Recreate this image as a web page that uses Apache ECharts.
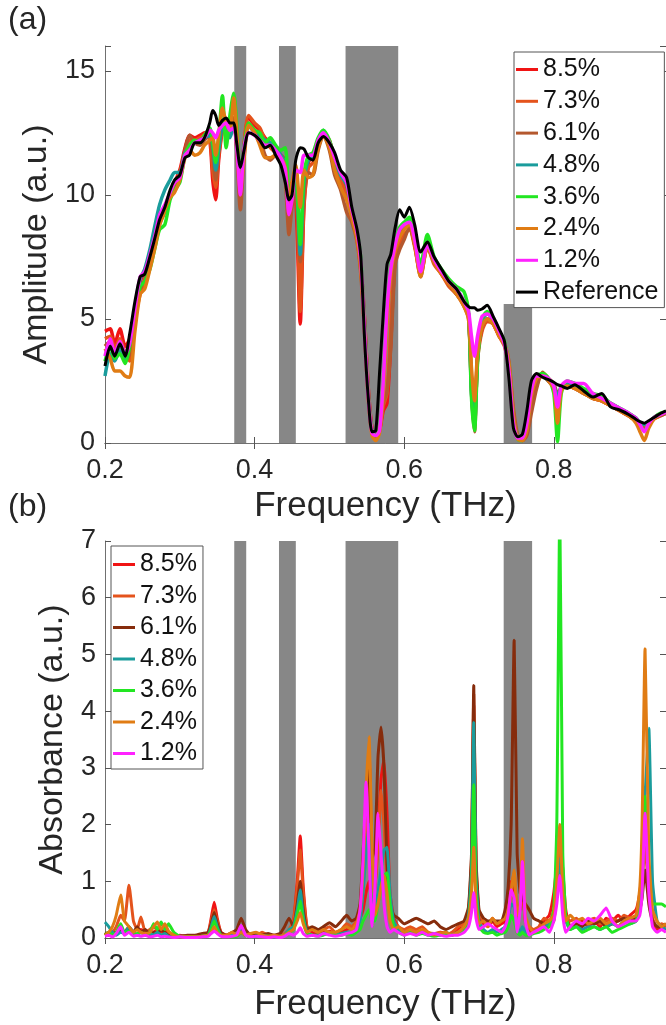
<!DOCTYPE html>
<html><head><meta charset="utf-8">
<script src="https://cdn.jsdelivr.net/npm/echarts@6/dist/echarts.min.js"></script>
<style>html,body{margin:0;padding:0;background:#fff}#c{width:666px;height:1025px}</style>
</head><body><div id="c"></div>
<script>
// ---------- data ----------
const X_TICKS = [0.2, 0.4, 0.6, 0.8];
const Y_TICKS_A = [0, 5, 10, 15];
const Y_TICKS_B = [0, 1, 2, 3, 4, 5, 6, 7];
const NAMES_A = ['8.5%', '7.3%', '6.1%', '4.8%', '3.6%', '2.4%', '1.2%', 'Reference'];
const NAMES_B = ['8.5%', '7.3%', '6.1%', '4.8%', '3.6%', '2.4%', '1.2%'];
const BANDS = [[0.3728, 0.3888], [0.4326, 0.4551], [0.5216, 0.592], [0.733, 0.771]];
const BAND4_TOP_A = 5.6;

const FREQ_A = [
0.200,0.207,0.213,0.220,0.227,0.233,0.240,0.247,0.253,0.260,
0.267,0.273,0.280,0.287,0.293,0.300,0.307,0.313,0.320,0.327,
0.333,0.340,0.344,0.348,0.352,0.357,0.362,0.367,0.372,0.376,
0.381,0.386,0.392,0.400,0.407,0.414,0.421,0.428,0.435,0.441,
0.446,0.450,0.455,0.461,0.466,0.472,0.478,0.485,0.492,0.500,
0.507,0.515,0.523,0.530,0.537,0.542,0.547,0.552,0.557,0.562,
0.567,0.572,0.577,0.582,0.588,0.594,0.600,0.607,0.614,0.622,
0.631,0.640,0.650,0.660,0.670,0.680,0.686,0.690,0.694,0.698,
0.704,0.711,0.719,0.727,0.734,0.740,0.746,0.752,0.758,0.764,
0.770,0.777,0.785,0.793,0.800,0.805,0.810,0.818,0.828,0.840,
0.852,0.864,0.876,0.888,0.900,0.910,0.916,0.921,0.927,0.935,
0.943,0.950];

const AMP_REF = [
3.1,3.9,3.5,4.0,3.5,4.4,5.7,6.7,6.8,7.5,
8.3,9.0,9.5,10.2,10.6,10.8,11.5,11.6,12.1,12.1,
12.3,12.9,13.4,13.2,12.8,13.0,13.1,12.9,12.9,12.1,
11.1,11.8,12.5,12.4,12.2,11.9,12.0,11.6,11.2,10.5,
9.8,10.0,11.4,11.9,11.85,11.5,11.4,12.1,12.35,12.1,
11.7,11.0,10.7,9.5,8.6,7.5,4.2,1.8,0.45,0.5,
2.8,5.2,7.2,7.6,8.7,9.4,9.1,9.5,8.8,7.7,
8.1,7.5,7.0,6.5,6.2,5.7,5.5,5.45,5.45,5.35,
5.4,5.55,5.1,4.6,4.1,2.6,0.6,0.25,0.35,1.3,
2.5,2.8,2.65,2.55,2.45,2.35,2.3,2.2,2.35,2.1,
1.85,2.0,1.45,1.33,1.15,0.95,0.85,0.8,0.9,1.05,
1.2,1.3];

const AMP_85 = [
4.5,4.6,4.0,4.6,3.9,4.2,5.3,6.5,6.9,7.4,
8.2,9.1,9.4,10.0,10.5,11.0,11.9,12.4,12.3,12.4,
12.5,12.2,10.6,9.8,11.4,12.6,12.8,12.6,13.0,12.0,
10.1,12.0,13.1,12.8,12.6,12.3,12.1,11.9,11.6,11.4,
9.6,10.5,10.0,4.8,9.5,11.3,11.6,12.1,12.5,12.2,
11.4,10.8,10.3,9.3,8.3,7.2,5.0,2.2,0.6,0.3,
0.5,1.3,1.6,4.0,7.6,8.5,8.7,8.8,8.0,7.0,
8.0,7.3,6.8,6.4,6.0,5.6,5.1,2.5,0.9,3.5,
4.6,5.0,4.8,4.3,4.0,3.0,1.0,0.2,0.15,0.6,
1.8,2.5,2.7,2.5,2.2,1.8,2.2,2.3,2.2,2.1,
1.8,1.7,1.5,1.3,1.1,0.9,0.7,0.6,0.8,1.0,
1.15,1.25];

const AMP_73 = [
4.2,4.3,3.8,4.2,3.6,3.3,4.9,6.0,6.5,7.2,
8.0,8.8,9.3,9.9,10.3,10.9,11.7,12.2,12.2,12.3,
12.4,12.3,11.0,10.3,11.6,12.6,12.9,12.7,13.1,12.4,
9.9,12.1,13.2,12.9,12.7,12.2,11.9,11.7,11.5,11.2,
9.6,10.2,10.3,5.3,9.6,11.1,11.3,12.0,12.5,12.0,
11.2,10.6,10.0,9.2,8.2,7.0,4.8,2.0,0.5,0.3,
0.6,1.5,2.0,4.5,7.4,8.0,8.4,8.6,7.9,6.8,
7.9,7.2,6.8,6.3,6.0,5.5,5.0,2.2,0.7,3.3,
4.5,4.9,4.8,4.3,3.9,3.1,1.2,0.25,0.1,0.4,
1.4,2.3,2.8,2.5,2.3,1.9,2.2,2.3,2.2,2.0,
1.8,1.7,1.5,1.3,1.1,0.9,0.75,0.7,0.8,1.0,
1.1,1.2];

const AMP_61 = [
3.9,4.1,3.6,3.9,3.3,3.6,5.0,6.2,6.6,7.3,
8.1,8.9,9.4,10.0,10.4,10.8,11.8,12.4,12.1,12.0,
12.2,12.5,11.6,10.6,11.8,12.8,13.0,12.8,13.1,11.8,
9.4,11.6,12.9,12.6,12.3,11.6,11.4,11.6,11.4,10.6,
8.4,9.5,10.4,7.3,10.2,10.9,10.8,11.8,12.4,11.8,
10.8,10.2,9.3,8.9,8.1,6.8,4.5,1.8,0.4,0.2,
0.5,1.6,2.1,3.8,7.2,7.8,8.2,8.7,8.0,6.7,
7.9,7.3,6.9,6.4,6.0,5.6,5.2,2.0,0.45,3.4,
4.7,5.0,4.9,4.4,4.0,3.3,1.4,0.3,0.1,0.3,
1.2,2.2,2.85,2.6,2.4,2.0,2.2,2.3,2.2,2.0,
1.8,1.75,1.5,1.35,1.1,0.9,0.8,0.75,0.85,1.0,
1.1,1.2];

const AMP_48 = [
2.7,3.6,3.3,3.8,3.4,4.0,5.4,6.6,7.0,7.8,
8.8,9.6,10.2,10.6,10.9,10.9,11.7,11.9,12.1,12.2,
12.3,12.4,12.0,11.0,11.8,12.7,12.6,12.3,12.8,12.2,
10.3,12.0,12.8,12.5,12.4,12.2,12.1,11.9,11.6,11.3,
10.0,10.2,10.7,7.6,10.5,11.4,11.5,12.2,12.6,12.1,
11.4,10.8,10.4,9.4,8.5,7.3,4.8,2.0,0.5,0.3,
0.5,2.3,5.3,7.0,8.0,8.6,8.8,9.0,8.2,7.1,
8.2,7.4,6.9,6.5,6.2,5.7,5.2,2.0,0.7,3.4,
4.9,5.2,5.0,4.5,4.0,3.1,1.0,0.2,0.15,0.6,
2.0,2.7,2.7,2.5,2.3,1.8,2.3,2.4,2.3,2.1,
1.9,1.8,1.6,1.4,1.2,1.0,0.8,0.75,0.85,1.05,
1.15,1.25];

const AMP_36 = [
3.3,3.9,3.4,3.6,3.2,3.9,5.3,6.3,6.5,7.0,
7.9,8.6,8.8,9.8,10.2,10.5,11.6,12.0,12.2,12.1,
12.4,12.7,12.1,11.3,12.3,14.0,11.9,13.2,14.1,12.9,
10.6,11.9,12.9,12.6,12.5,12.1,12.3,12.0,11.8,11.9,
10.0,10.4,10.9,8.0,10.8,11.6,11.7,12.3,12.6,12.2,
11.5,10.9,10.5,9.4,8.5,7.4,4.6,1.8,0.4,0.3,
0.6,2.5,5.5,7.1,8.1,8.7,8.9,9.1,8.3,7.2,
8.4,7.5,7.0,6.6,6.3,6.1,5.3,1.8,0.5,3.2,
5.0,5.3,5.0,4.5,4.1,3.0,0.9,0.15,0.1,0.7,
2.1,2.7,2.8,2.6,2.0,0.05,2.0,2.5,2.4,2.2,
2.0,1.9,1.6,1.4,1.2,1.0,0.7,0.5,0.8,1.05,
1.2,1.25];

const AMP_24 = [
3.8,3.4,2.9,2.9,2.7,2.65,4.5,6.0,6.2,7.0,
7.9,8.8,9.4,9.9,10.1,10.6,11.5,11.8,11.6,11.7,
12.0,12.2,12.3,11.6,12.4,13.5,12.9,12.6,13.9,12.6,
10.2,11.5,12.8,12.5,12.0,11.5,11.5,11.6,11.5,11.1,
9.8,10.5,11.2,9.5,11.0,10.7,10.8,11.9,12.4,11.9,
11.0,10.3,9.8,9.1,8.2,7.0,4.5,1.8,0.3,0.1,
0.4,2.0,4.8,6.8,7.8,8.3,8.6,8.8,8.0,6.7,
7.9,7.3,6.8,6.4,6.0,5.5,5.0,3.0,1.7,3.6,
4.7,5.0,4.8,4.3,4.0,3.2,1.1,0.15,0.1,0.5,
1.9,2.6,2.7,2.5,2.2,0.8,2.1,2.3,2.2,2.0,
1.8,1.7,1.5,1.3,1.1,0.8,0.4,0.1,0.6,1.0,
1.15,1.25];

const AMP_12 = [
3.5,4.2,3.6,4.1,3.6,4.0,5.4,6.7,6.9,7.6,
8.4,9.2,9.6,10.1,10.5,10.7,11.6,11.8,12.1,12.2,
12.3,12.6,12.5,12.3,12.6,12.8,12.9,12.6,12.7,12.0,
10.0,11.9,12.5,12.4,12.2,12.0,12.0,11.8,11.5,11.0,
9.2,9.8,11.0,10.9,11.6,11.6,11.6,12.2,12.5,12.1,
11.5,10.9,10.5,9.4,8.5,7.3,4.5,1.8,0.4,0.3,
0.5,2.5,5.4,7.0,8.0,8.6,8.8,8.9,8.2,6.9,
8.0,7.4,6.9,6.5,6.2,5.7,5.3,4.3,3.5,4.3,
5.1,5.2,5.0,4.5,4.0,2.9,0.8,0.2,0.2,0.8,
2.1,2.7,2.7,2.6,2.3,1.45,2.3,2.5,2.4,2.4,
2.0,1.8,1.6,1.4,1.2,1.0,0.7,0.45,0.8,1.05,
1.15,1.25];

const FREQ_B = [
0.200,0.205,0.210,0.215,0.221,0.226,0.232,0.238,0.243,0.248,
0.254,0.260,0.265,0.270,0.275,0.280,0.285,0.292,0.300,0.310,
0.320,0.330,0.338,0.342,0.346,0.350,0.355,0.362,0.370,0.376,
0.382,0.388,0.395,0.402,0.410,0.418,0.426,0.434,0.440,0.446,
0.452,0.457,0.461,0.465,0.470,0.477,0.485,0.492,0.500,0.508,
0.516,0.523,0.530,0.536,0.541,0.545,0.549,0.553,0.557,0.561,
0.565,0.569,0.573,0.577,0.581,0.586,0.592,0.600,0.608,0.616,
0.624,0.632,0.640,0.648,0.656,0.664,0.672,0.680,0.686,0.690,
0.693,0.696,0.700,0.706,0.712,0.718,0.724,0.730,0.735,0.739,
0.743,0.747,0.751,0.755,0.758,0.762,0.767,0.773,0.780,0.787,
0.794,0.800,0.804,0.808,0.812,0.816,0.822,0.830,0.838,0.846,
0.854,0.862,0.870,0.878,0.886,0.894,0.902,0.910,0.915,0.918,
0.922,0.927,0.932,0.938,0.944,0.950];

const ABS_85 = [
0.05,0.1,0.05,0.1,0.15,0.1,0.2,0.1,0.05,0.15,
0.1,0.05,0.1,0.15,0.1,0.12,0.05,0.03,0.05,0.02,
0.03,0.05,0.1,0.35,0.63,0.35,0.1,0.05,0.05,0.05,
0.1,0.05,0.03,0.05,0.08,0.03,0.05,0.03,0.05,0.1,
0.3,1.0,1.8,0.9,0.2,0.1,0.05,0.1,0.12,0.08,
0.1,0.15,0.2,0.25,0.35,0.5,0.8,1.0,0.6,0.9,
1.8,2.8,3.15,2.2,0.8,0.35,0.2,0.1,0.15,0.1,
0.12,0.08,0.05,0.1,0.08,0.05,0.15,0.2,0.4,1.3,
4.1,1.2,0.4,0.25,0.2,0.3,0.2,0.25,0.3,0.5,
1.0,0.7,0.4,0.5,0.9,0.3,0.15,0.1,0.15,0.3,
0.4,0.8,1.3,1.8,1.2,0.5,0.2,0.25,0.3,0.2,
0.3,0.2,0.35,0.3,0.4,0.3,0.4,0.5,0.8,1.2,
1.8,1.0,0.3,0.15,0.2,0.15];

const ABS_73 = [
0.08,0.05,0.1,0.2,0.4,0.3,0.93,0.3,0.15,0.37,
0.1,0.15,0.2,0.15,0.25,0.2,0.1,0.05,0.03,0.02,
0.03,0.05,0.1,0.3,0.5,0.3,0.1,0.05,0.08,0.05,
0.15,0.05,0.08,0.05,0.1,0.05,0.03,0.05,0.08,0.15,
0.3,0.9,1.55,0.8,0.2,0.15,0.1,0.15,0.2,0.1,
0.15,0.25,0.2,0.3,0.5,0.9,2.0,3.3,1.5,0.9,
1.6,2.6,2.0,1.0,0.5,0.3,0.2,0.15,0.2,0.15,
0.2,0.1,0.08,0.1,0.05,0.1,0.2,0.25,0.5,1.4,
4.3,1.3,0.45,0.3,0.25,0.35,0.25,0.3,0.35,0.4,
0.9,1.15,0.5,0.6,1.0,0.3,0.2,0.15,0.2,0.35,
0.3,0.5,1.0,1.5,0.9,0.4,0.3,0.35,0.25,0.3,
0.35,0.25,0.3,0.35,0.3,0.4,0.35,0.4,0.6,1.0,
1.6,0.8,0.35,0.2,0.25,0.2];

const ABS_61 = [
0.1,0.05,0.08,0.1,0.15,0.1,0.15,0.1,0.2,0.1,
0.15,0.05,0.1,0.08,0.15,0.1,0.05,0.05,0.03,0.05,
0.05,0.08,0.1,0.25,0.45,0.25,0.1,0.05,0.1,0.15,
0.35,0.15,0.05,0.08,0.05,0.08,0.05,0.08,0.2,0.35,
0.2,0.6,1.0,0.5,0.15,0.2,0.15,0.2,0.27,0.2,
0.3,0.4,0.3,0.35,0.6,1.5,2.5,3.2,1.4,1.6,
3.2,3.72,3.0,1.3,0.6,0.4,0.35,0.25,0.3,0.35,
0.3,0.25,0.3,0.2,0.15,0.2,0.25,0.3,0.55,1.5,
4.45,1.4,0.5,0.35,0.3,0.3,0.3,0.3,0.5,0.9,
2.0,5.25,1.5,0.8,0.7,0.6,0.5,0.35,0.3,0.25,
0.2,0.3,0.8,1.3,0.7,0.3,0.2,0.25,0.2,0.3,
0.25,0.3,0.2,0.25,0.3,0.35,0.3,0.35,0.5,0.7,
1.2,0.6,0.3,0.2,0.2,0.25];

const ABS_48 = [
0.28,0.2,0.1,0.05,0.1,0.08,0.2,0.1,0.05,0.1,
0.05,0.08,0.05,0.1,0.05,0.08,0.03,0.02,0.03,0.02,
0.02,0.03,0.05,0.2,0.38,0.2,0.05,0.03,0.05,0.05,
0.2,0.05,0.02,0.03,0.05,0.03,0.02,0.03,0.05,0.15,
0.2,0.5,0.85,0.4,0.1,0.05,0.05,0.08,0.1,0.05,
0.08,0.1,0.1,0.15,0.3,0.8,1.5,2.0,0.7,0.5,
0.8,1.2,1.55,1.6,0.8,0.3,0.15,0.1,0.12,0.08,
0.1,0.05,0.08,0.05,0.1,0.05,0.1,0.15,0.4,1.2,
3.8,1.1,0.3,0.15,0.1,0.15,0.1,0.15,0.2,0.35,
0.6,0.55,0.2,0.1,0.2,0.1,0.05,0.1,0.15,0.2,
0.25,0.4,0.8,1.4,0.7,0.3,0.15,0.2,0.15,0.2,
0.2,0.15,0.2,0.25,0.2,0.3,0.25,0.3,0.6,1.2,
2.5,3.7,1.0,0.3,0.2,0.15];

const ABS_36 = [
0.05,0.1,0.05,0.1,0.25,0.1,0.12,0.05,0.08,0.1,
0.05,0.1,0.25,0.15,0.28,0.15,0.25,0.1,0.03,0.02,
0.02,0.03,0.05,0.15,0.3,0.15,0.05,0.03,0.02,0.03,
0.1,0.05,0.02,0.03,0.02,0.03,0.02,0.02,0.05,0.1,
0.15,0.4,0.65,0.3,0.08,0.05,0.03,0.05,0.08,0.05,
0.05,0.08,0.05,0.1,0.15,0.3,0.4,0.5,0.3,0.3,
0.6,0.9,1.1,1.15,0.6,0.2,0.1,0.05,0.1,0.05,
0.08,0.05,0.03,0.05,0.08,0.05,0.1,0.12,0.3,0.9,
2.7,0.8,0.2,0.1,0.08,0.1,0.05,0.08,0.1,0.2,
0.4,0.3,0.1,0.05,0.1,0.05,0.05,0.08,0.1,0.15,
0.2,0.5,2.0,7.6,1.5,0.4,0.15,0.2,0.1,0.15,
0.2,0.15,0.2,0.1,0.15,0.2,0.25,0.3,0.5,0.8,
2.5,1.2,0.6,0.6,0.6,0.55];

const ABS_24 = [
0.05,0.1,0.2,0.4,0.76,0.3,0.2,0.1,0.15,0.1,
0.08,0.1,0.2,0.28,0.15,0.25,0.12,0.05,0.02,0.02,
0.02,0.03,0.05,0.1,0.2,0.1,0.05,0.05,0.1,0.05,
0.1,0.05,0.08,0.1,0.05,0.03,0.05,0.03,0.05,0.1,
0.15,0.3,0.45,0.25,0.1,0.15,0.1,0.15,0.1,0.1,
0.15,0.2,0.15,0.25,0.5,1.2,2.6,3.55,1.6,0.4,
0.6,0.9,1.1,0.8,0.3,0.15,0.2,0.1,0.15,0.1,
0.15,0.1,0.05,0.08,0.1,0.05,0.1,0.2,0.35,0.8,
1.6,0.6,0.25,0.3,0.2,0.35,0.25,0.3,0.35,0.5,
0.8,1.2,0.4,0.6,1.75,0.4,0.2,0.1,0.15,0.25,
0.3,0.4,1.0,2.0,0.8,0.3,0.4,0.3,0.35,0.25,
0.3,0.35,0.25,0.3,0.2,0.3,0.35,0.4,0.9,2.0,
5.1,1.5,0.5,0.3,0.2,0.25];

const ABS_12 = [
0.03,0.05,0.02,0.08,0.2,0.05,0.1,0.03,0.05,0.03,
0.05,0.02,0.03,0.05,0.02,0.03,0.02,0.01,0.02,0.01,
0.01,0.02,0.03,0.08,0.12,0.08,0.03,0.02,0.03,0.05,
0.22,0.05,0.02,0.03,0.02,0.01,0.02,0.01,0.03,0.08,
0.05,0.1,0.18,0.08,0.03,0.05,0.03,0.08,0.05,0.03,
0.05,0.08,0.1,0.15,0.5,1.4,2.75,1.5,0.2,0.9,
2.2,1.5,0.6,0.2,0.1,0.15,0.1,0.05,0.08,0.05,
0.1,0.05,0.08,0.05,0.03,0.05,0.05,0.1,0.2,0.45,
0.8,0.35,0.15,0.2,0.25,0.2,0.15,0.1,0.2,0.4,
0.85,0.7,0.1,0.5,1.35,0.3,0.05,0.1,0.15,0.2,
0.1,0.3,0.6,1.1,0.4,0.1,0.2,0.3,0.25,0.35,
0.3,0.4,0.53,0.3,0.2,0.25,0.3,0.3,0.4,0.8,
2.2,0.8,0.2,0.1,0.15,0.1];

// ---------- styles ----------
const FONT = '"Liberation Sans", Arial, Helvetica, sans-serif';
const TXT = '#262626';
const COLORS_A = ['#f01414', '#e4531c', '#b4582e', '#1a9c9c', '#22e622', '#e07c14', '#ff22ff', '#000000'];
const COLORS_B = ['#f01414', '#e4531c', '#862c0c', '#1a9c9c', '#22e622', '#e07c14', '#ff22ff'];
const VALUES_A = [AMP_85, AMP_73, AMP_61, AMP_48, AMP_36, AMP_24, AMP_12, AMP_REF];
const VALUES_B = [ABS_85, ABS_73, ABS_61, ABS_48, ABS_36, ABS_24, ABS_12];

function pairs(fr, vals) { return fr.map((f, i) => [f, vals[i]]); }
const near = (list, v) => list.some(t => Math.abs(t - v) < 1e-6);

const axisLineStyle = { show: true, lineStyle: { color: '#707070', width: 1 } };
const tickStyle = { show: true, inside: true, length: 6, lineStyle: { color: '#555', width: 1 } };

function xAxis(gi, pos, withLabels, gap) {
  return {
    type: 'value', gridIndex: gi, position: pos, min: 0.2, max: 0.95, interval: 0.2,
    axisLine: axisLineStyle, axisTick: tickStyle, splitLine: { show: false },
    axisLabel: withLabels ? {
      show: true, margin: 14, fontSize: 27, color: TXT, fontFamily: FONT, showMaxLabel: false,
      formatter: v => near(X_TICKS, v) ? v.toFixed(1) : ''
    } : { show: false },
    name: withLabels ? 'Frequency (THz)' : '', nameLocation: 'middle', nameGap: gap,
    nameTextStyle: { fontSize: 35, color: TXT, fontFamily: FONT }
  };
}
function yAxis(gi, pos, max, ticks, withLabels, name, gap, margin) {
  return {
    type: 'value', gridIndex: gi, position: pos, min: 0, max: max, interval: ticks[1] - ticks[0],
    axisLine: axisLineStyle, axisTick: tickStyle, splitLine: { show: false },
    axisLabel: withLabels ? {
      show: true, margin: margin, fontSize: 27, color: TXT, fontFamily: FONT,
      formatter: v => near(ticks, v) ? String(v) : ''
    } : { show: false },
    name: withLabels ? name : '', nameLocation: 'middle', nameRotate: 90, nameGap: gap,
    nameTextStyle: { fontSize: 34, color: TXT, fontFamily: FONT }
  };
}

const bandsA = BANDS.map((b, i) => i === 3
  ? [{ xAxis: b[0], yAxis: 0 }, { xAxis: b[1], yAxis: BAND4_TOP_A }]
  : [{ xAxis: b[0] }, { xAxis: b[1] }]);
const bandsB = BANDS.map(b => [{ xAxis: b[0] }, { xAxis: b[1] }]);

const series = [];
NAMES_A.forEach((n, i) => {
  series.push({
    name: n, type: 'line', xAxisIndex: 0, yAxisIndex: 0, z: 3,
    data: pairs(FREQ_A, VALUES_A[i]), showSymbol: false, symbol: 'none', smooth: 0.25,
    lineStyle: { color: COLORS_A[i], width: i === 7 ? 3 : 3.5 }, itemStyle: { color: COLORS_A[i] },
    emphasis: { disabled: true }
  });
});
NAMES_B.forEach((n, i) => {
  series.push({
    name: n, type: 'line', xAxisIndex: 2, yAxisIndex: 2, z: 3,
    data: pairs(FREQ_B, VALUES_B[i]), showSymbol: false, symbol: 'none', smooth: 0.15,
    lineStyle: { color: COLORS_B[i], width: 3 }, itemStyle: { color: COLORS_B[i] },
    emphasis: { disabled: true }
  });
});
series.push({
  name: 'bandsA', type: 'line', xAxisIndex: 0, yAxisIndex: 0, z: 1, data: [[0.2, 0]], symbol: 'none',
  lineStyle: { width: 0 }, markArea: { silent: true, itemStyle: { color: '#878787' }, data: bandsA }
});
series.push({
  name: 'bandsB', type: 'line', xAxisIndex: 2, yAxisIndex: 2, z: 1, data: [[0.2, 0]], symbol: 'none',
  lineStyle: { width: 0 }, markArea: { silent: true, itemStyle: { color: '#878787' }, data: bandsB }
});

const legendCommon = {
  orient: 'vertical', icon: 'rect', itemWidth: 22, itemHeight: 3,
  borderColor: '#555', borderWidth: 1, borderRadius: 0, backgroundColor: '#fff',
  textStyle: { fontSize: 25, lineHeight: 25, fontFamily: FONT, color: '#111' }, selectedMode: false
};

const option = {
  animation: false,
  backgroundColor: '#fff',
  grid: [
    { left: 105, top: 46, width: 564, height: 397 },
    { left: 105, top: 541, width: 564, height: 397 }
  ],
  xAxis: [xAxis(0, 'bottom', true, 46), xAxis(0, 'top', false, 0), xAxis(1, 'bottom', true, 49), xAxis(1, 'top', false, 0)],
  yAxis: [
    yAxis(0, 'left', 16, Y_TICKS_A, true, 'Amplitude (a.u.)', 40, 10),
    yAxis(0, 'right', 16, Y_TICKS_A, false, '', 0, 0),
    yAxis(1, 'left', 7, Y_TICKS_B, true, 'Absorbance (a.u.)', 22, 9),
    yAxis(1, 'right', 7, Y_TICKS_B, false, '', 0, 0)
  ],
  legend: [
    Object.assign({}, legendCommon, { left: 514, top: 52, itemGap: 6.8, padding: [5, 6, 3, 2],
      data: NAMES_A.map((n, i) => ({ name: n, itemStyle: { color: COLORS_A[i] } })) }),
    Object.assign({}, legendCommon, { left: 111, top: 546, itemGap: 6.5, padding: [6, 6, 3, 2],
      data: NAMES_B.map((n, i) => ({ name: n, itemStyle: { color: COLORS_B[i] } })) })
  ],
  graphic: [
    { type: 'text', left: 8, top: 4, style: { text: '(a)', fontSize: 32, fontFamily: FONT, fill: TXT } },
    { type: 'text', left: 8, top: 491, style: { text: '(b)', fontSize: 32, fontFamily: FONT, fill: TXT } }
  ],
  series: series
};
const chart = echarts.init(document.getElementById('c'));
chart.setOption(option);
</script></body></html>
